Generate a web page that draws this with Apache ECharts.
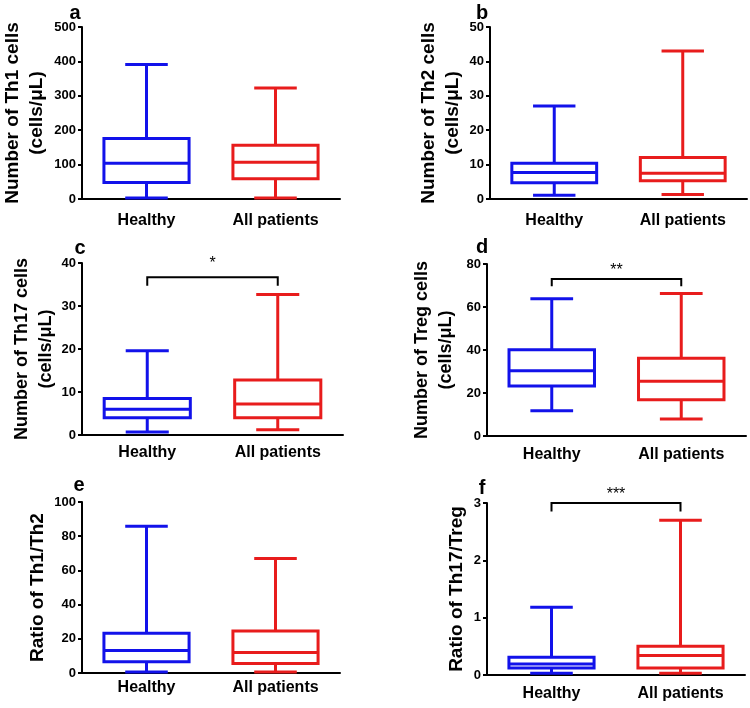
<!DOCTYPE html>
<html>
<head>
<meta charset="utf-8">
<script src="https://cdn.jsdelivr.net/npm/echarts@6/dist/echarts.min.js"></script>
<style>
html,body{margin:0;padding:0;background:#fff;}
#chart{width:750px;height:708px;}
</style>
</head>
<body>
<div id="chart"></div>
<script>
// ---- data (min, Q1, median, Q3, max) ----
const categories = ['Healthy', 'All patients'];
const th1Healthy = [3, 48, 104, 176, 391];
const th1Patients = [3, 59, 107, 156, 323];
const th2Healthy = [1.1, 4.7, 7.7, 10.4, 27];
const th2Patients = [1.3, 5.3, 7.5, 12.1, 43];
const th17Healthy = [0.7, 4.0, 6.0, 8.5, 19.6];
const th17Patients = [1.2, 4.0, 7.2, 12.8, 32.7];
const tregHealthy = [11.7, 23.3, 30.3, 40.1, 63.8];
const tregPatients = [7.9, 16.9, 25.5, 36.2, 66.3];
const th1th2Healthy = [0.6, 6.6, 13.2, 23.3, 85.8];
const th1th2Patients = [0.6, 5.6, 12.0, 24.5, 67];
const th17tregHealthy = [0.03, 0.12, 0.19, 0.31, 1.18];
const th17tregPatients = [0.03, 0.12, 0.34, 0.50, 2.70];

const panelLetters = ['a', 'b', 'c', 'd', 'e', 'f'];
const yNames = [
  'Number of Th1 cells\n(cells/μL)',
  'Number of Th2 cells\n(cells/μL)',
  'Number of Th17 cells\n(cells/μL)',
  'Number of Treg cells\n(cells/μL)',
  'Ratio of Th1/Th2',
  'Ratio of Th17/Treg'
];
const yMax = [500, 50, 40, 80, 100, 3];
const yInterval = [100, 10, 10, 20, 20, 1];
const sigTop = [null, null, 36.7, 73, null, 3.0];
const sigLeg = [null, null, 34.7, 69.6, null, 2.85];
const sigText = ['', '', '*', '**', '', '***'];

const panelData = [
  [th1Healthy, th1Patients],
  [th2Healthy, th2Patients],
  [th17Healthy, th17Patients],
  [tregHealthy, tregPatients],
  [th1th2Healthy, th1th2Patients],
  [th17tregHealthy, th17tregPatients]
];

// ---- layout ----
const grids = [
  {left: 82, top: 27, right: 410, bottom: 509},
  {left: 490, top: 27, right: 3, bottom: 509},
  {left: 82, top: 263, right: 407, bottom: 273},
  {left: 487, top: 264, right: 4, bottom: 272},
  {left: 82, top: 502, right: 410, bottom: 35},
  {left: 487, top: 503, right: 5, bottom: 33}
];
const letterPos = [[75, 13], [482, 13], [80, 248], [482, 247], [79, 485], [482, 488]];
const nameGaps = [33, 25, 20, 29, 32, 18];
const nameSizes = [19, 19, 18, 18, 19, 19];
const xLabelMargins = [14, 14, 10, 11, 7, 11];
const sigTextOffset = [0, 0, 6, 0, 0, 0];
const boxColors = ['#1212ea', '#e81c1c'];
const FONT = '"Liberation Sans", Arial, sans-serif';

function renderBox(params, api) {
  const x = api.value(0);
  const vMin = api.value(1), q1 = api.value(2), med = api.value(3), q3 = api.value(4), vMax = api.value(5);
  const band = api.size([1, 0])[0];
  const bw = band * 0.66, cw = band * 0.33;
  const cx = api.coord([x, med])[0];
  const yMin = api.coord([x, vMin])[1];
  const yQ1 = api.coord([x, q1])[1];
  const yMed = api.coord([x, med])[1];
  const yQ3 = api.coord([x, q3])[1];
  const yMx = api.coord([x, vMax])[1];
  const style = {stroke: boxColors[params.dataIndex], lineWidth: 3, fill: null};
  const line = (x1, y1, x2, y2) => ({type: 'line', shape: {x1, y1, x2, y2}, style});
  return {
    type: 'group',
    children: [
      {type: 'rect', shape: {x: cx - bw / 2, y: yQ3, width: bw, height: yQ1 - yQ3}, style},
      line(cx - bw / 2, yMed, cx + bw / 2, yMed),
      line(cx, yQ3, cx, yMx),
      line(cx, yQ1, cx, yMin),
      line(cx - cw / 2, yMx, cx + cw / 2, yMx),
      line(cx - cw / 2, yMin, cx + cw / 2, yMin)
    ]
  };
}

const option = {
  animation: false,
  backgroundColor: '#fff',
  grid: grids,
  xAxis: grids.map((g, i) => ({
    type: 'category',
    gridIndex: i,
    data: categories,
    axisLine: {lineStyle: {color: '#000', width: 2}},
    axisTick: {alignWithLabel: true, length: 5, lineStyle: {color: '#000', width: 2}},
    axisLabel: {color: '#000', fontFamily: FONT, fontWeight: 'bold', fontSize: 16, margin: xLabelMargins[i]}
  })),
  yAxis: grids.map((g, i) => ({
    type: 'value',
    gridIndex: i,
    min: 0,
    max: yMax[i],
    interval: yInterval[i],
    name: yNames[i],
    nameLocation: 'middle',
    nameGap: nameGaps[i],
    nameTextStyle: {color: '#000', fontFamily: FONT, fontWeight: 'bold', fontSize: nameSizes[i], lineHeight: 24},
    splitLine: {show: false},
    axisLine: {show: true, lineStyle: {color: '#000', width: 2}},
    axisTick: {show: true, length: 4, lineStyle: {color: '#000', width: 2}},
    axisLabel: {color: '#000', fontFamily: FONT, fontWeight: 'bold', fontSize: 13, margin: 6}
  })),
  graphic: panelLetters.map((t, i) => ({
    type: 'text', x: letterPos[i][0], y: letterPos[i][1],
    style: {text: t, fill: '#000', font: 'bold 20px ' + FONT, textAlign: 'center', textVerticalAlign: 'middle'}
  })),
  series: []
};

panelData.forEach((pd, i) => {
  option.series.push({
    type: 'custom',
    xAxisIndex: i, yAxisIndex: i,
    renderItem: renderBox,
    encode: {x: 0, y: [1, 2, 3, 4, 5]},
    data: pd.map((v, k) => [k].concat(v)),
    clip: false
  });
  if (sigTop[i] !== null) {
    const label = sigText[i];
    const off = sigTextOffset[i];
    option.series.push({
      type: 'custom',
      xAxisIndex: i, yAxisIndex: i,
      encode: {x: [0, 1], y: [2, 3]},
      data: [[0, 1, sigTop[i], sigLeg[i]]],
      clip: false,
      renderItem: function (params, api) {
        const top = api.value(2), leg = api.value(3);
        const p0 = api.coord([api.value(0), top]);
        const p1 = api.coord([api.value(1), top]);
        const yl = api.coord([api.value(0), leg])[1];
        const style = {stroke: '#000', lineWidth: 2, fill: null};
        return {
          type: 'group',
          children: [
            {type: 'polyline', shape: {points: [[p0[0], yl], [p0[0], p0[1]], [p1[0], p1[1]], [p1[0], yl]]}, style},
            {type: 'text', x: (p0[0] + p1[0]) / 2, y: p0[1] - off,
              style: {text: label, fill: '#000', font: '16px ' + FONT, textAlign: 'center', textVerticalAlign: 'bottom'}}
          ]
        };
      }
    });
  }
});

const chart = echarts.init(document.getElementById('chart'), null, {renderer: 'canvas'});
chart.setOption(option);
</script>
</body>
</html>
